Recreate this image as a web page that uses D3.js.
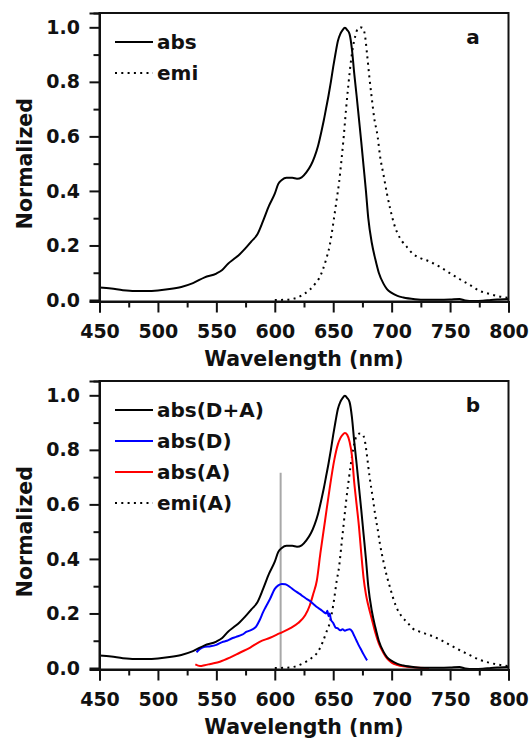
<!DOCTYPE html>
<html>
<head>
<meta charset="utf-8">
<script src="https://cdn.jsdelivr.net/npm/d3@7"></script>
<style>
body{margin:0;background:#fff}
text{font-family:"DejaVu Sans",sans-serif;font-weight:bold;fill:#111}
</style>
</head>
<body>
<div id="chart"></div>
<script>
// [wavelength nm, normalized]
var absDA = [[450,.046],[460,.042],[470,.036],[480,.033],[490,.033],[500,.035],[510,.04],[520,.048],[530,.062],[540,.083],[550,.097],[555,.11],[560,.133],[565,.15],[570,.168],[575,.19],[580,.215],[585,.24],[590,.29],[595,.345],[600,.39],[603,.426],[606,.44],[610,.448],[615,.448],[619,.445],[623,.45],[627,.468],[631,.495],[634,.525],[637,.565],[640,.62],[642,.66],[644,.705],[646,.75],[648,.8],[650,.855],[652,.905],[654,.95],[656,.975],[658,.99],[660,.998],[662,.99],[664,.975],[666,.92],[668,.83],[670,.75],[672,.665],[674,.58],[676,.49],[678,.4],[680,.3],[683,.21],[686,.15],[689,.1],[693,.06],[696,.04],[700,.026],[705,.015],[710,.009],[720,.003],[730,.001],[740,.001],[750,.002],[758,.004],[763,-.002],[770,-.004],[778,-.003],[785,0],[792,.002],[800,.004]];
var emi = [[600,0],[610,.001],[615,.004],[620,.01],[625,.022],[630,.038],[635,.062],[638,.08],[641,.11],[644,.15],[647,.2],[650,.28],[653,.37],[655,.43],[657,.51],[659,.6],[661,.7],[663,.79],[665,.87],[667,.93],[669,.97],[671,.995],[673,1],[675,.998],[677,.975],[679,.9],[681,.815],[683,.74],[685,.67],[688,.6],[690,.53],[693,.46],[696,.39],[699,.33],[702,.28],[705,.245],[709,.215],[713,.195],[718,.17],[724,.155],[733,.14],[741,.122],[750,.098],[758,.077],[767,.055],[775,.034],[784,.022],[792,.013],[800,.008]];
var absD = [[533,.058],[536,.07],[540,.078],[545,.08],[550,.085],[555,.095],[559,.1],[563,.108],[567,.114],[572,.122],[576,.133],[580,.14],[584,.152],[587,.175],[590,.205],[592,.222],[596,.254],[600,.29],[603,.303],[606,.308],[609,.307],[613,.297],[616,.287],[619,.278],[622,.27],[624,.263],[627,.254],[630,.246],[633,.235],[636,.224],[639,.215],[642,.205],[644,.2],[645,.21],[646,.19],[647,.2],[648,.178],[650,.165],[652,.148],[654,.145],[656,.138],[658,.142],[660,.137],[662,.14],[664,.142],[666,.135],[668,.118],[670,.1],[672,.082],[674,.066],[676,.05],[678,.035],[679,.028]];
var absA = [[532,.013],[536,.007],[540,.01],[545,.015],[553,.023],[562,.039],[570,.056],[579,.075],[587,.096],[596,.111],[604,.127],[613,.145],[620,.165],[626,.193],[630,.23],[633,.273],[636,.321],[639,.42],[643,.54],[647,.66],[651,.765],[654,.82],[656,.842],[658,.855],[660,.862],[662,.855],[664,.83],[666,.78],[668,.68],[670,.6],[672,.52],[674,.42],[676,.33],[678,.27],[680,.23],[683,.18],[686,.13],[689,.09],[693,.055],[696,.035],[700,.02],[705,.011],[710,.006],[720,.002],[732,0]];
var emiA = [[600,0],[610,.001],[617,.005],[624,.017],[631,.035],[637,.06],[641,.095],[644,.13],[647,.165],[650,.23],[653,.32],[655,.37],[657,.45],[659,.53],[661,.61],[663,.68],[665,.745],[667,.8],[669,.84],[671,.857],[673,.86],[675,.857],[677,.835],[679,.775],[681,.705],[684,.62],[686,.56],[688,.51],[690,.455],[693,.39],[696,.335],[699,.29],[701,.26],[704,.224],[709,.187],[713,.169],[718,.145],[724,.133],[733,.12],[741,.105],[750,.084],[758,.066],[767,.047],[776,.029],[784,.019],[793,.011],[800,.007]];

var xMajor = [450,500,550,600,650,700,750,800];
var xMinor = [475,525,575,625,675,725,775];
var yMajor = [0,0.2,0.4,0.6,0.8,1.0];
var yMinor = [0.1,0.3,0.5,0.7,0.9];
var markWl = 605, markTop = 0.716; // grey marker line in panel b

var panels = [
  {tag:"a", top:0, series:[
    {name:"abs", data:absDA, color:"#000", dotted:false},
    {name:"emi", data:emi, color:"#000", dotted:true}]},
  {tag:"b", top:368, mark:true, series:[
    {name:"abs(D+A)", data:absDA, color:"#000", dotted:false},
    {name:"abs(D)", data:absD, color:"#0000ff", dotted:false},
    {name:"abs(A)", data:absA, color:"#ff0000", dotted:false},
    {name:"emi(A)", data:emiA, color:"#000", dotted:true}]}
];

var svg = d3.select("#chart").append("svg").attr("width",531).attr("height",745);

var x = d3.scaleLinear().domain([450,800]).range([99.5,508.5]);
var y = d3.scaleLinear().domain([-0.0055,1.0525]).range([301.5,13]);
var line = d3.line().curve(d3.curveMonotoneX).x(d=>x(d[0])).y(d=>y(d[1]));

panels.forEach(function(p){
  var g = svg.append("g").attr("transform","translate(0,"+p.top+")");

  if(p.mark){
    g.append("line")
      .attr("x1",x(markWl)).attr("x2",x(markWl))
      .attr("y1",y(0)).attr("y2",y(markTop))
      .attr("stroke","#a8a8a8").attr("stroke-width",2);
  }

  // draw emission first, then absorptions on top
  p.series.slice().reverse().forEach(function(s){
    g.append("path").datum(s.data)
      .attr("d",line)
      .attr("fill","none")
      .attr("stroke",s.color)
      .attr("stroke-width",2)
      .attr("stroke-linejoin","round")
      .attr("stroke-dasharray",s.dotted?"2 4.3":null);
  });

  // frame
  g.append("rect")
    .attr("x",x.range()[0]).attr("y",y.range()[1])
    .attr("width",x.range()[1]-x.range()[0])
    .attr("height",y.range()[0]-y.range()[1])
    .attr("fill","none").attr("stroke","#111").attr("stroke-width",2);

  g.append("g").attr("transform","translate(0,"+y.range()[0]+")")
    .call(d3.axisBottom(x).tickValues(xMajor).tickSize(11).tickPadding(12.5).tickFormat(d3.format("d")));
  g.append("g").attr("transform","translate(0,"+y.range()[0]+")")
    .call(d3.axisBottom(x).tickValues(xMinor).tickSize(6).tickFormat(""));
  g.append("g").attr("transform","translate("+x.range()[0]+",0)")
    .call(d3.axisLeft(y).tickValues(yMajor).tickSize(10).tickPadding(9.5).tickFormat(d3.format(".1f")));
  g.append("g").attr("transform","translate("+x.range()[0]+",0)")
    .call(d3.axisLeft(y).tickValues(yMinor).tickSize(6).tickFormat(""));

  g.selectAll(".domain").attr("stroke","#111").attr("stroke-width",2);
  g.selectAll(".tick line").attr("stroke","#111").attr("stroke-width",2);
  g.selectAll(".tick text").attr("font-size",19).attr("font-family","DejaVu Sans").attr("font-weight","bold").attr("fill","#111");

  g.append("text").attr("x",(x.range()[0]+x.range()[1])/2).attr("y",366)
    .attr("text-anchor","middle").attr("font-size",20.5).text("Wavelength (nm)");
  g.append("text").attr("transform","translate(32,"+((y(0)+y(1))/2)+") rotate(-90)")
    .attr("text-anchor","middle").attr("font-size",20.5).text("Normalized");

  g.append("text").attr("x",473).attr("y",44).attr("text-anchor","middle")
    .attr("font-size",20).text(p.tag);

  // legend
  var lg = g.selectAll(".leg").data(p.series).enter().append("g")
    .attr("transform",(d,i)=>"translate(0,"+(42+i*31)+")");
  lg.append("line").attr("x1",115).attr("x2",153)
    .attr("stroke",d=>d.color).attr("stroke-width",2)
    .attr("stroke-dasharray",d=>d.dotted?"2 4.3":null);
  lg.append("text").attr("x",157).attr("y",6.5).attr("font-size",20).text(d=>d.name);
});
</script>
</body>
</html>
